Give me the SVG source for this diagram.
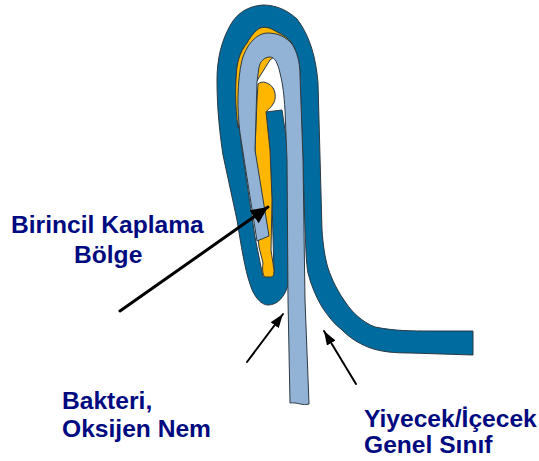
<svg xmlns="http://www.w3.org/2000/svg" width="539" height="461" viewBox="0 0 539 461">
<style>
.s{stroke:#2b3a44;stroke-width:1;stroke-linejoin:round}
.blue{fill:#006b9e}.light{fill:#92b3d5}.orange{fill:#ffb600}
.t{font-family:"Liberation Sans",Arial,sans-serif;font-weight:700;font-size:24.6px;fill:#000a80}
.a{fill:none;stroke:#000;stroke-linecap:round}
</style>
<defs>
<marker id="big" markerUnits="userSpaceOnUse" markerWidth="20" markerHeight="18" refX="17" refY="8" orient="auto"><path d="M0 0L17 8L0 16Z" fill="#000"/></marker>
<marker id="small" markerUnits="userSpaceOnUse" markerWidth="16" markerHeight="12" refX="14" refY="5" orient="auto"><path d="M0 0L14 5L0 10Z" fill="#000"/></marker>
</defs>
<g id="seal">
<path class="s blue" d="M473 331L430 331C412 331 395 331 375 327C362 322 352 312 346 303C338 292 332 280 328 268C325 258 323 245 322 230L318 83C316 58 310 36 297 19C285 8 273 5 263 5C247 6 237 14 231 24C221 41 217 60 217 80C217 110 220 135 223 155L237 220C241 245 245 270 250 284C254 298 262 305 268 305C278 305 285 296 288 285L288 150L282 110L266 112L270 150L272 200L274 273L263 277L255 237L242 150L236 100C235 88 236 78 237 67C239 55 242 50 247 43C251 36 255 31 260 28C267 26 272 29 277 32C283 35 288 38 292 43C297 52 300 62 300 75L303 160L305 230C306 250 306 262 308 273C311 285 316 297 322 307C328 316 334 324 342 330C350 338 358 343 368 347C380 352 395 353 410 353L473 355Z"/>
<path class="s orange" d="M238 128C235 105 235 85 237 67C239 55 242 50 247 43C251 36 255 31 260 28C267 26 272 29 277 32C283 35 288 38 292 43L270 60L245 100Z"/>
<path class="s orange" d="M258 84C262 80 270 83 273 88C276 93 276 100 273 104C271 108 268 109 266 112L270 150L272 200L271 250L274 270C274 275 273 277 271 277L265 277C263 276 262 270 263 263L259 247L256 220L255 150L257 100Z"/>
<path class="s light" d="M257 241L245 165L240 133C237 110 237 82 242 60C247 44 256 34 267 33C278 33 286 37 292 44C297 52 300 62 300 75L303 160L305 300L309 404C303 406 297 402 290 403L288 300L287 160L285 110C284 95 283 85 280 73C278 64 275 57 270 57C264 57 260 62 259 67L257 82L255 150L269 236Z"/>
</g>
<g id="connectors">
<path class="a" stroke-width="3" marker-end="url(#big)" d="M120 311L268 207"/>
<path class="a" stroke-width="2" marker-end="url(#small)" d="M247 362L283 314"/>
<path class="a" stroke-width="2" marker-end="url(#small)" d="M356 384L324 331"/>
</g>
<g id="label-birincil"><text class="t" x="11" y="233">Birincil Kaplama</text><text class="t" x="74" y="263">Bölge</text></g>
<g id="label-bakteri"><text class="t" x="62" y="409">Bakteri,</text><text class="t" x="62" y="437">Oksijen Nem</text></g>
<g id="label-yiyecek"><text class="t" x="364" y="427">Yiyecek/İçecek</text><text class="t" x="364" y="453">Genel Sınıf</text></g>
</svg>
